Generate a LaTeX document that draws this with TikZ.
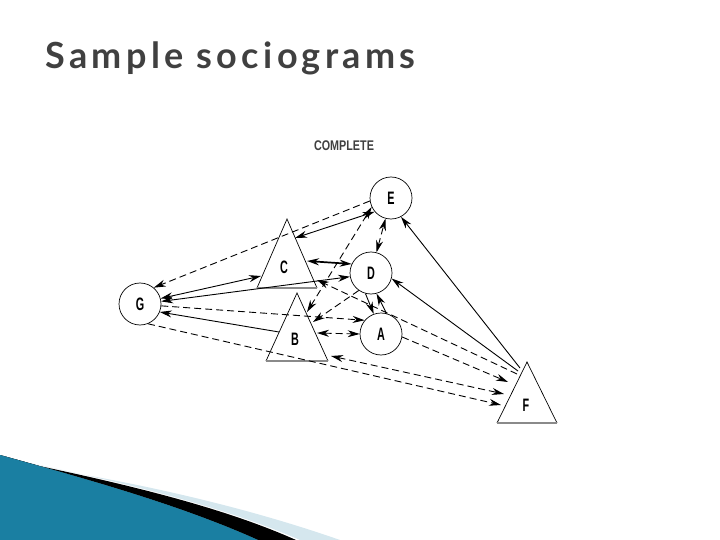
\documentclass[tikz,border=0pt]{standalone}
\usepackage{fontspec}
\usepackage{graphicx}
\setmainfont{Liberation Sans}
\newfontfamily\titlefont[LetterSpace=12]{Lato}
\usetikzlibrary{arrows.meta}

\definecolor{titlegray}{HTML}{404040}
\definecolor{swooshdark}{HTML}{1A7FA2}
\definecolor{swooshlight}{HTML}{52B6DB}
\definecolor{swooshpale}{HTML}{D5E7EE}
\definecolor{basegray}{HTML}{8A8A8A}

\newcommand{\sociolbl}[1]{\scalebox{0.6}[1]{\bfseries #1}}

\begin{document}
\begin{tikzpicture}[x=1pt, y=-1pt,
        person/.style={circle, draw, minimum size=42pt, inner sep=0pt, line width=0.7pt},
        tag/.style={inner sep=0pt, font=\fontsize{18}{18}\selectfont},
        choice/.style={line width=0.9pt, -{Stealth[length=12pt,width=7pt]}},
        mutual/.style={line width=0.9pt, {Stealth[length=12pt,width=7pt]}-{Stealth[length=12pt,width=7pt]}},
        reject/.style={dash pattern=on 7pt off 4pt}
    ]
    \useasboundingbox (0,0) rectangle (720,540);

    % Swoosh in the lower left corner
    \fill[swooshpale] (25,462) .. controls (120,482) and (220,505) .. (300,540)
        -- (340,540) .. controls (260,512) and (170,490) .. (80,474) -- cycle;
    \fill[black] (0,455) .. controls (90,480) and (180,505) .. (258,540)
        -- (296,540) .. controls (220,506) and (120,483) .. (30,464) -- cycle;
    \fill[left color=swooshdark, middle color=swooshlight, right color=swooshdark]
        (0,455) .. controls (90,480) and (180,505) .. (258,540) -- (0,540) -- cycle;

    % Title
    \node[anchor=base west, text=titlegray, font=\titlefont\bfseries\fontsize{36}{36}\selectfont] (title) at (42,69) {Sample sociograms};
    \node[text=titlegray, font=\fontsize{14}{14}\selectfont] (complete) at (344,146) {\scalebox{0.77}[1]{\bfseries COMPLETE}};

    % Triangles
    \draw[line width=0.7pt] (257,288) -- (287,219) -- (317,288);
    \draw[basegray, line width=1.5pt] (257,288) -- (317,288);
    \draw[line width=0.7pt] (266,361) -- (297,293) -- (328,361);
    \draw[basegray, line width=1.5pt] (266,361) -- (328,361);
    \draw[line width=0.7pt] (497,423) -- (527,362) -- (557,423);
    \draw[basegray, line width=1.5pt] (497,423) -- (557,423);
    \node[tag] (C) at (284,267) {\sociolbl{C}};
    \node[tag] (B) at (295,339) {\sociolbl{B}};
    \node[tag] (F) at (526,405) {\sociolbl{F}};

    % Ports on the triangles
    \coordinate (cE) at (295,238);
    \coordinate (cD) at (307,261);
    \coordinate (cG) at (261,276);
    \coordinate (cF) at (317,280);
    \coordinate (bE) at (307,312);
    \coordinate (bD) at (313,322);
    \coordinate (bA) at (317,333);
    \coordinate (bG) at (279,332);
    \coordinate (bF) at (331,356);
    \coordinate (fE) at (520,368);
    \coordinate (fD) at (518,371);
    \coordinate (fC) at (517,374);
    \coordinate (fA) at (508,382);
    \coordinate (fB) at (504,394);
    \coordinate (fG) at (501,405);

    % Circles
    \node[person, tag] (E) at (391,198) {\sociolbl{E}};
    \node[person, tag] (D) at (371,273) {\sociolbl{D}};
    \node[person, tag] (A) at (381,334) {\sociolbl{A}};
    \node[person, tag] (G) at (140,304) {\sociolbl{G}};

    % Choices
    \draw[choice, reject] (E.188) -- (G.50);
    \draw[mutual] (cE) -- (E.220);
    \draw[mutual, reject] (bE) -- (E.205);
    \draw[mutual, reject] (D.75) -- (E.255);
    \draw[mutual, line width=1.7pt] (cD) -- (D.155);
    \draw[mutual] (G.15) -- (cG);
    \draw[mutual] (G.7) -- (D.190);
    \draw[choice] (bG) -- (G.-22);
    \draw[choice, reject] (G.-5) -- (A.140);
    \draw[choice, reject] (G.-68) -- (fG);
    \draw[mutual, reject] (bF) -- (fB);
    \draw[choice, reject] (A.-8) -- (fA);
    \draw[choice] (fE) -- (E.-62);
    \draw[choice] (fD) -- (D.-15);
    \draw[choice, reject] (fC) -- (cF);
    \draw[choice] (D.-105) -- (A.110);
    \draw[choice] (A.75) -- (D.-75);
    \draw[choice, reject] (D.235) -- (bD);
    \draw[mutual, reject] (bA) -- (A.180);
\end{tikzpicture}
\end{document}
